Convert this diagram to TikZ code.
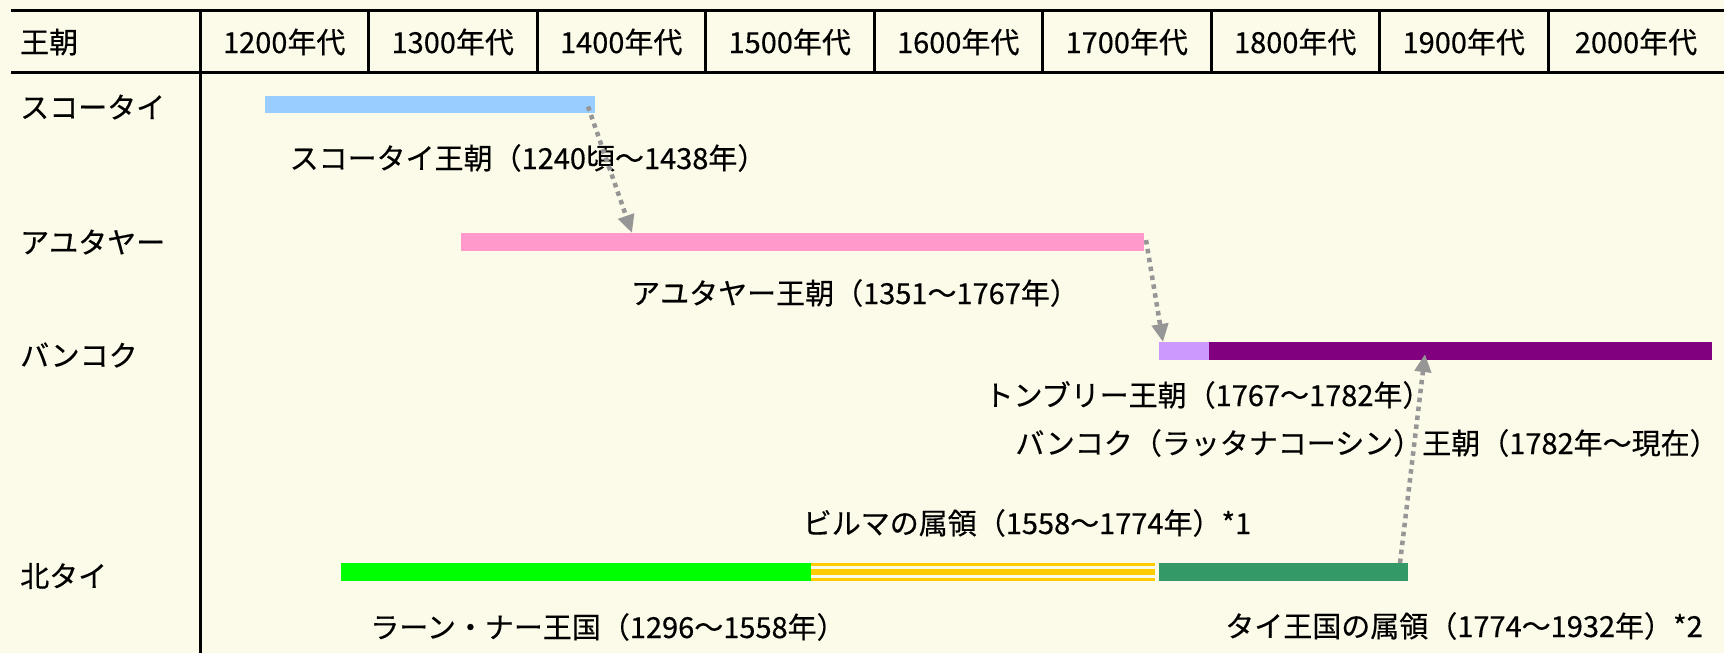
\documentclass[tikz,border=0pt]{standalone}
\usepackage{fontspec}
\setmainfont{Noto Sans CJK JP}[FakeBold=0.4]
\usetikzlibrary{arrows.meta}
\definecolor{bg}{RGB}{252,250,232}
\definecolor{sukhoblue}{RGB}{153,204,255}
\definecolor{ayupink}{RGB}{255,153,204}
\definecolor{thonlav}{RGB}{204,153,255}
\definecolor{bkkpurple}{RGB}{128,0,128}
\definecolor{lannagreen}{RGB}{0,255,0}
\definecolor{burmayellow}{RGB}{255,204,0}
\definecolor{thaiteal}{RGB}{51,153,102}
\definecolor{linkgray}{RGB}{150,150,150}
\begin{document}
\begin{tikzpicture}[x=1pt,y=-1pt,
  bar/.style={inner sep=0pt, outer sep=0pt, anchor=north west, draw=none},
  lbl/.style={inner sep=0pt, font=\fontsize{29}{34}\selectfont},
  rule/.style={line width=3pt, black},
  link/.style={draw=linkgray, line width=4.5pt, dash pattern=on 4.5pt off 4.5pt,
    -{Triangle[width=16pt,length=18pt]}}]
\useasboundingbox (0,0) rectangle (1724,653);
\fill[bg] (0,0) rectangle (1724,653);
% header
\draw[rule] (11,10) -- (1724,10);
\draw[rule] (11,72) -- (1724,72);
\draw[rule] (200,10) -- (200,653);
\foreach \i in {1,...,8} \draw[rule] (200+168.5*\i,10) -- (200+168.5*\i,72);
\node[lbl, anchor=west] (hdyn) at (20,42) {王朝};
\foreach \i/\yr in {0/1200,1/1300,2/1400,3/1500,4/1600,5/1700,6/1800,7/1900}
  \node[lbl] (h\yr) at (200+168.5*\i+84.25,42) {\yr 年代};
\node[lbl] (h2000) at (1636,42) {2000年代};
% row labels
\node[lbl, anchor=west] (rsukho) at (20,107) {スコータイ};
\node[lbl, anchor=west] (rayu) at (20,242) {アユタヤー};
\node[lbl, anchor=west] (rbkk) at (20,355) {バンコク};
\node[lbl, anchor=west] (rnorth) at (20,576) {北タイ};
% bars
\node[bar, fill=sukhoblue, minimum width=330pt, minimum height=17pt] (sukho) at (265,96) {};
\node[bar, fill=ayupink, minimum width=683pt, minimum height=18pt] (ayu) at (461,233) {};
\node[bar, fill=thonlav, minimum width=50pt, minimum height=18pt] (thon) at (1159,342) {};
\node[bar, fill=bkkpurple, minimum width=503pt, minimum height=18pt] (bkk) at (1209,342) {};
\node[bar, fill=lannagreen, minimum width=470pt, minimum height=18pt] (lanna) at (341,563) {};
\node[bar, minimum width=344pt, minimum height=18pt] (burma) at (811,563) {};
\fill[burmayellow] (811,563) rectangle (1155,566);
\fill[burmayellow] (811,569) rectangle (1155,575);
\fill[burmayellow] (811,578) rectangle (1155,581);
\node[bar, fill=thaiteal, minimum width=249pt, minimum height=18pt] (thai) at (1159,563) {};
% bar labels
\node[lbl] (lsukho) at (528,158) {スコータイ王朝（1240頃～1438年）};
\node[lbl] (layu) at (855,293) {アユタヤー王朝（1351～1767年）};
\node[lbl] (lthon) at (1208,395) {トンブリー王朝（1767～1782年）};
\node[lbl] (lbkk) at (1367,443) {バンコク（ラッタナコーシン）王朝（1782年～現在）};
\node[lbl] (lburma) at (1027,523) {ビルマの属領（1558～1774年）*1};
\node[lbl] (llanna) at (608,627) {ラーン・ナー王国（1296～1558年）};
\node[lbl] (lthai) at (1464,626) {タイ王国の属領（1774～1932年）*2};
% links
\draw[link] ([xshift=-7pt,yshift=-2pt]sukho.east) -- ([xshift=171pt]ayu.north west);
\draw[link] ([xshift=2pt,yshift=2pt]ayu.east) -- ([xshift=4pt]thon.north west);
\draw[link] ([xshift=-8pt]thai.north east) -- ([xshift=216pt,yshift=6pt]bkk.south west);
\end{tikzpicture}
\end{document}
